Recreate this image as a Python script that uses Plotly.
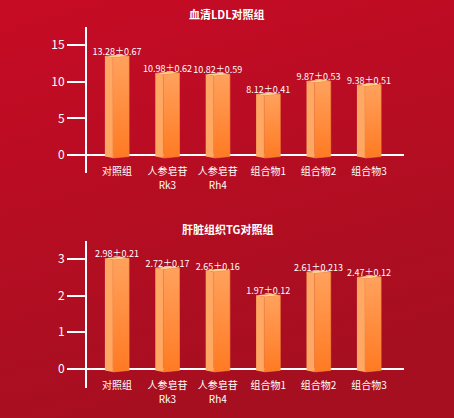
import base64
import plotly.graph_objects as go

# data
categories = ["对照组", "人参皂苷", "人参皂苷", "组合物1", "组合物2", "组合物3"]
category_sub = ["", "Rk3", "Rh4", "", "", ""]
ldl_mean = [13.28, 10.98, 10.82, 8.12, 9.87, 9.38]
ldl_sd = [0.67, 0.62, 0.59, 0.41, 0.53, 0.51]
tg_mean = [2.98, 2.72, 2.65, 1.97, 2.61, 2.47]
tg_sd = [0.21, 0.17, 0.16, 0.12, 0.213, 0.12]
ldl_ticks = [0, 5, 10, 15]
tg_ticks = [0, 1, 2, 3]

W, H = 454, 418
FONT = "Noto Sans CJK SC, Roboto, sans-serif"

panels = [
    # title, means, sds, ticks, y range, y domain, x label position, title y
    ("血清LDL对照组", ldl_mean, ldl_sd, ldl_ticks, [-2.45, 17.45], [0.5861, 0.9354], 0.6077, 0.9665),
    ("肝脏组织TG对照组", tg_mean, tg_sd, tg_ticks, [-0.52, 3.49], [0.0718, 0.4234], 0.0957, 0.4522),
]

fig = go.Figure()
layout_axes = {}
annotations = []
xs = list(range(len(categories)))

for k, (title, means, sds, ticks, yr, ydom, xpos, ty) in enumerate(panels):
    sfx = "" if k == 0 else str(k + 1)
    sub_sfx = str(k + 3)
    xa, ya, xsub = "x" + sfx, "y" + sfx, "x" + sub_sfx
    px_per_unit = (ydom[1] - ydom[0]) * H / (yr[1] - yr[0])
    h = 1.5 / px_per_unit
    base = -3 / px_per_unit

    for i, v in enumerate(means):
        xl, xe, xr = i - 0.24, i - 0.08, i + 0.24
        # left (lit) face
        fig.add_trace(go.Scatter(
            x=[xl, xe, xe, xl, xl], y=[base + h, base, v, v + h, base + h],
            fill="toself", fillcolor="#ffa863", mode="lines", line=dict(width=0),
            hoverinfo="skip", xaxis=xa, yaxis=ya))
        # right face with gradient
        fig.add_trace(go.Scatter(
            x=[xe, xr, xr, xe, xe], y=[base, base + h, v + h, v, base],
            fill="toself", mode="lines", line=dict(width=0.6, color="#f38a45"),
            fillgradient=dict(type="vertical", start=base, stop=v,
                              colorscale=[[0, "#ff7a22"], [1, "#ffa15c"]]),
            hoverinfo="skip", xaxis=xa, yaxis=ya))
        # top cap
        fig.add_trace(go.Scatter(
            x=[xl, xe, xr, xl + xr - xe, xl], y=[v + h, v, v + h, v + 2 * h, v + h],
            fill="toself", fillcolor="#ffcf86", mode="lines", line=dict(width=0),
            hoverinfo="skip", xaxis=xa, yaxis=ya))

    # value labels
    fig.add_trace(go.Scatter(
        x=xs, y=means, mode="text",
        text=[f"{m}±{s}" for m, s in zip(means, sds)],
        textposition="top center",
        textfont=dict(color="white", size=9, family=FONT),
        hoverinfo="skip", xaxis=xa, yaxis=ya))
    # empty trace so the second-line label axis gets drawn
    fig.add_trace(go.Scatter(x=xs, y=[None] * len(xs), mode="markers",
                             hoverinfo="skip", xaxis=xsub, yaxis=ya))

    common_x = dict(domain=[68 / W, 404 / W], range=[-0.972, 5.694], anchor="free",
                    tickvals=xs, showline=False, showgrid=False, zeroline=False, ticks="",
                    tickfont=dict(color="white", size=10, family=FONT))
    layout_axes["xaxis" + sfx] = dict(common_x, position=xpos, ticktext=categories)
    layout_axes["xaxis" + sub_sfx] = dict(common_x, position=xpos - 14 / H,
                                          ticktext=category_sub, overlaying=xa)
    layout_axes["yaxis" + sfx] = dict(
        domain=ydom, range=yr, anchor="free", position=86 / W,
        tickvals=ticks, showline=True, linecolor="white", linewidth=2,
        ticks="outside", ticklen=18, tickwidth=2, tickcolor="white",
        showgrid=False, zeroline=True, zerolinecolor="white", zerolinewidth=2,
        tickfont=dict(color="white", size=12, family=FONT))
    annotations.append(dict(
        text=f"<b>{title}</b>", x=0.5, y=ty, xref="paper", yref="paper",
        xanchor="center", yanchor="middle",
        showarrow=False, font=dict(color="white", size=11, family=FONT)))

# red gradient backdrop
svg = (f'<svg xmlns="http://www.w3.org/2000/svg" width="{W}" height="{H}" preserveAspectRatio="none">'
       '<defs><linearGradient id="g" x1="0" y1="0" x2="0.3" y2="1">'
       '<stop offset="0" stop-color="#c70b25"/><stop offset="1" stop-color="#a60f20"/>'
       '</linearGradient></defs>'
       f'<rect width="{W}" height="{H}" fill="url(#g)"/></svg>')
bg = "data:image/svg+xml;base64," + base64.b64encode(svg.encode()).decode()

fig.update_layout(
    width=W, height=H, autosize=False,
    margin=dict(l=0, r=0, t=0, b=0),
    paper_bgcolor="#b80d22", plot_bgcolor="rgba(0,0,0,0)",
    showlegend=False,
    annotations=annotations,
    images=[dict(source=bg, xref="paper", yref="paper", x=0, y=1, sizex=1, sizey=1,
                 sizing="stretch", layer="below")],
    **layout_axes,
)

# drop the page's default body margin so the figure fills the window
fig.write_html("out.html", config={"displayModeBar": False},
               post_script="document.body.style.margin='0';document.body.style.overflow='hidden';")
